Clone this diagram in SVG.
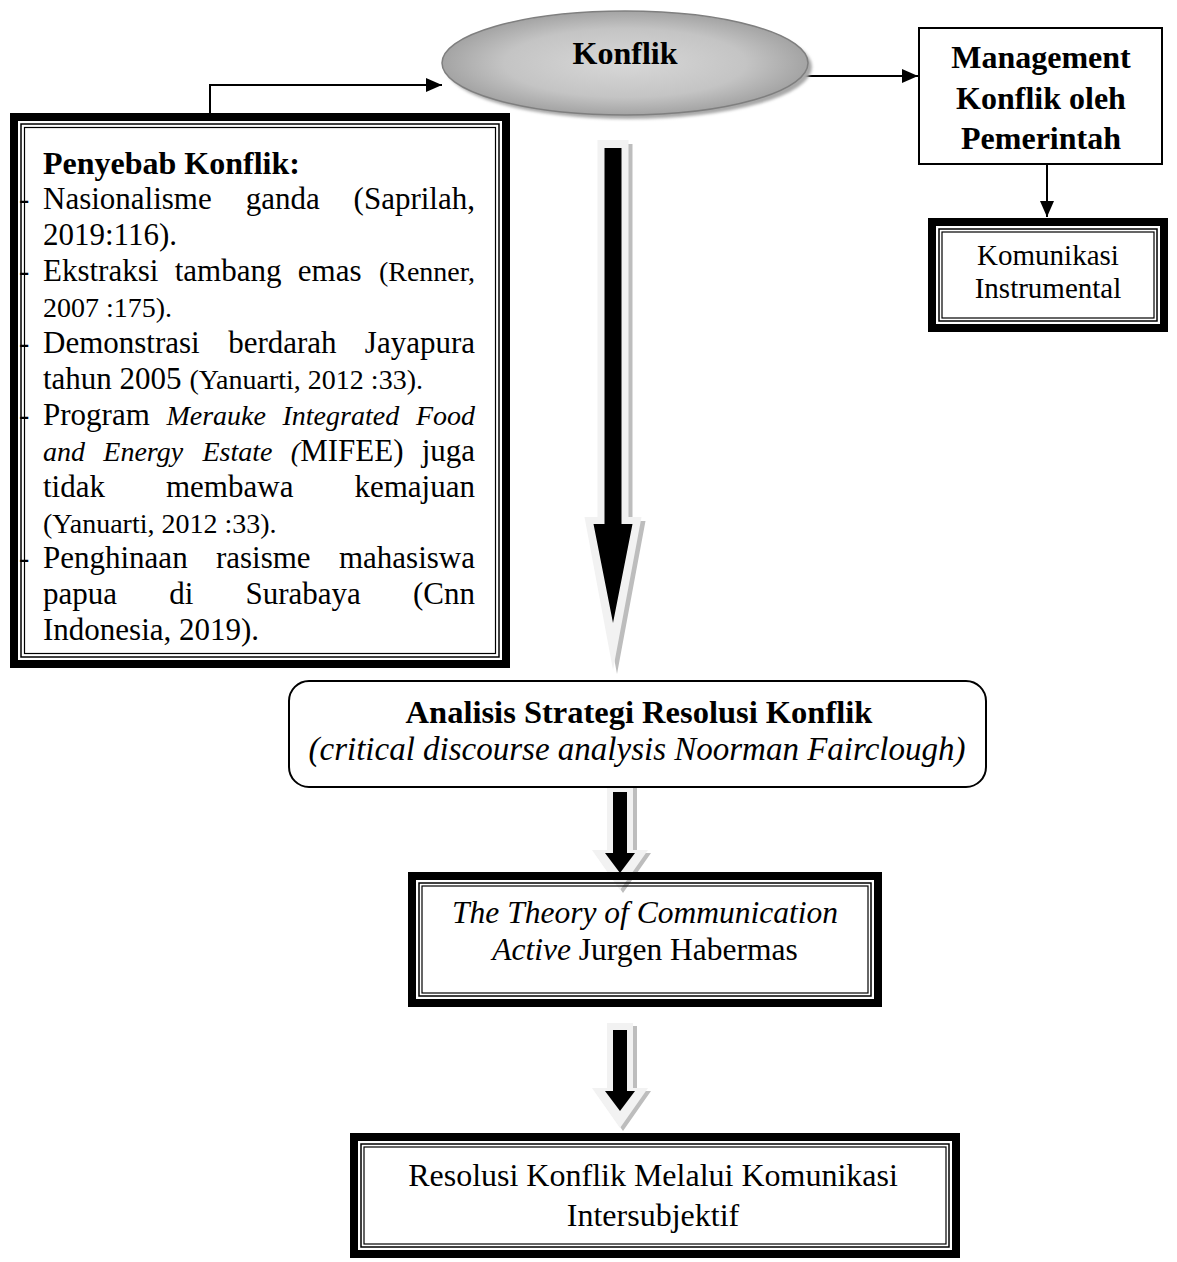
<svg xmlns="http://www.w3.org/2000/svg" width="1177" height="1262" viewBox="0 0 1177 1262">
<style>
  text { font-family: "Liberation Serif", "Times New Roman", serif; fill: #000; }
  .b { font-weight: bold; font-size: 32px; }
  .r { font-size: 31px; }
  .c { font-size: 28px; }
  .i { font-style: italic; }
  .m { text-anchor: middle; }
  .e { text-anchor: end; }
  .thick { fill: none; stroke: #000; stroke-width: 8; }
  .thin1 { fill: none; stroke: #000; stroke-width: 1.5; }
  .thin2 { fill: none; stroke: #000; stroke-width: 1.2; }
  .line { fill: none; stroke: #000; stroke-width: 2; }
  .light { fill: #f2f2f2; }
  .shade { fill: #bdbdbd; }
</style>
<defs>
  <marker id="ah" markerUnits="userSpaceOnUse" markerWidth="16" markerHeight="14" refX="16" refY="7" orient="auto">
    <path d="M0,0 L16,7 L0,14 z" fill="#000"/>
  </marker>
  <radialGradient id="eg" cx="50%" cy="50%" r="55%">
    <stop offset="0" stop-color="#d8d8d8"/>
    <stop offset="0.6" stop-color="#c4c4c4"/>
    <stop offset="1" stop-color="#9a9a9a"/>
  </radialGradient>
  <filter id="blur" x="-10%" y="-10%" width="120%" height="130%">
    <feGaussianBlur stdDeviation="1.5"/>
  </filter>
</defs>
<rect width="1177" height="1262" fill="#fff"/>

<g id="connectors">
  <path class="line" d="M210,113 V85 H442" marker-end="url(#ah)"/>
  <path class="line" d="M798,76 H918" marker-end="url(#ah)"/>
  <path class="line" d="M1047,165 V217" marker-end="url(#ah)"/>
  <g id="arrow1">
    <polygon class="shade" points="601.5,144 632.5,144 632.5,521 645.5,521 617,674 588.5,521 601.5,521"/>
    <polygon class="light" points="597.5,140 628.5,140 628.5,517 641.5,517 613,670 584.5,517 597.5,517"/>
    <polygon fill="#000" points="604.5,148 621.5,148 621.5,524 632.5,524 613,623 593.5,524 604.5,524"/>
  </g>
  <g id="arrow2">
    <polygon class="shade" points="611,788 637,788 637,853 651,853 623,893 595,853 609,853"/>
    <polygon class="light" points="607,785 633,785 633,850 648,850 620,890 592,850 607,850"/>
    <polygon fill="#000" points="613,792 627,792 627,853 635,853 620,873 605,853 613,853"/>
  </g>
  <g id="arrow3">
    <polygon class="shade" points="611,1026 637,1026 637,1091 651,1091 623,1131 595,1091 609,1091"/>
    <polygon class="light" points="607,1023 633,1023 633,1088 648,1088 620,1128 592,1088 607,1088"/>
    <polygon fill="#000" points="613,1030 627,1030 627,1091 635,1091 620,1111 605,1091 613,1091"/>
  </g>
</g>

<g id="konflik">
  <ellipse cx="629" cy="67" rx="183" ry="52" fill="#a8a8a8" filter="url(#blur)"/>
  <ellipse cx="625" cy="63" rx="183" ry="52" fill="url(#eg)" stroke="#7f7f7f" stroke-width="1.5"/>
  <text class="b m" x="625" y="64">Konflik</text>
</g>

<g id="management">
  <rect x="919" y="28" width="243" height="136" fill="#fff" stroke="#000" stroke-width="2"/>
  <text class="b m" x="1041" y="68">Management</text>
  <text class="b m" x="1041" y="109">Konflik oleh</text>
  <text class="b m" x="1041" y="149">Pemerintah</text>
</g>

<g id="komunikasi-instrumental">
  <rect class="thick" x="932" y="222" width="232" height="106"/>
  <rect class="thin1" x="939" y="229" width="218" height="92"/>
  <rect class="thin2" x="942" y="232" width="212" height="86"/>
  <text class="m" style="font-size:29px" x="1048" y="265">Komunikasi</text>
  <text class="m" style="font-size:29px" x="1048" y="298">Instrumental</text>
</g>

<g id="penyebab">
  <rect class="thick" x="14" y="117" width="492" height="547"/>
  <rect class="thin1" x="21" y="124" width="478" height="533"/>
  <rect class="thin2" x="24.5" y="127.5" width="471" height="526"/>
  <text class="b" x="43" y="174">Penyebab Konflik:</text>
  <g class="r">
    <text x="19" y="208.5">-</text>
    <text x="19" y="280.5">-</text>
    <text x="19" y="352.5">-</text>
    <text x="19" y="424.5">-</text>
    <text x="19" y="568">-</text>
  </g>
  <text class="r" x="43" y="208.5">Nasionalisme</text>
  <text class="r" x="245.7" y="208.5">ganda</text>
  <text class="r e" x="475" y="208.5">(Saprilah,</text>
  <text class="r" x="43" y="244.5">2019:116).</text>

  <text class="r" x="43" y="280.5">Ekstraksi</text>
  <text class="r" x="174.7" y="280.5">tambang</text>
  <text class="r" x="297.8" y="280.5">emas</text>
  <text class="c e" x="475" y="280.5">(Renner,</text>
  <text class="c" x="43" y="316.5">2007 :175).</text>

  <text class="r" x="43" y="352.5">Demonstrasi</text>
  <text class="r" x="228.2" y="352.5">berdarah</text>
  <text class="r e" x="475" y="352.5">Jayapura</text>
  <text class="r" x="43" y="388.5">tahun 2005 <tspan class="c">(Yanuarti, 2012 :33).</tspan></text>

  <text class="r" x="43" y="424.5">Program</text>
  <text class="c i" x="166.4" y="424.5">Merauke</text>
  <text class="c i" x="282.5" y="424.5">Integrated</text>
  <text class="c i e" x="475" y="424.5">Food</text>

  <text class="c i" x="43" y="460.5">and</text>
  <text class="c i" x="103.3" y="460.5">Energy</text>
  <text class="c i" x="202.5" y="460.5">Estate</text>
  <text class="c i" x="290.8" y="460.5">(<tspan class="r" style="font-style:normal">MIFEE)</tspan></text>
  <text class="r e" x="475" y="460.5">juga</text>

  <text class="r" x="43" y="496.5">tidak</text>
  <text class="r" x="166" y="496.5">membawa</text>
  <text class="r e" x="475" y="496.5">kemajuan</text>
  <text class="c" x="43" y="532.5">(Yanuarti, 2012 :33).</text>

  <text class="r" x="43" y="568">Penghinaan</text>
  <text class="r" x="215.9" y="568">rasisme</text>
  <text class="r e" x="475" y="568">mahasiswa</text>

  <text class="r" x="43" y="604">papua</text>
  <text class="r" x="169.2" y="604">di</text>
  <text class="r" x="245.5" y="604">Surabaya</text>
  <text class="r e" x="475" y="604">(Cnn</text>
  <text class="r" x="43" y="640">Indonesia, 2019).</text>
</g>

<g id="analisis">
  <rect x="289" y="681" width="697" height="106" rx="20" ry="20" fill="#fff" stroke="#000" stroke-width="2"/>
  <text class="b m" style="font-size:32.5px" x="639" y="723">Analisis Strategi Resolusi Konflik</text>
  <text class="i m" style="font-size:33px" x="637" y="760">(critical discourse analysis Noorman Fairclough)</text>
</g>

<g id="theory">
  <rect class="thick" x="412" y="876" width="466" height="127"/>
  <rect class="thin1" x="419" y="883" width="452" height="113"/>
  <rect class="thin2" x="422" y="886" width="446" height="107"/>
  <text class="m i" style="font-size:31.5px" x="645" y="923">The Theory of Communication</text>
  <text class="m" style="font-size:31.5px" x="645" y="960"><tspan font-style="italic">Active</tspan> Jurgen Habermas</text>
</g>

<g id="resolusi">
  <rect class="thick" x="354" y="1137" width="602" height="117"/>
  <rect class="thin1" x="361" y="1144" width="588" height="103"/>
  <rect class="thin2" x="364" y="1147" width="582" height="97"/>
  <text class="m" style="font-size:32px" x="653" y="1186">Resolusi Konflik Melalui Komunikasi</text>
  <text class="m" style="font-size:32px" x="653" y="1226">Intersubjektif</text>
</g>
</svg>
